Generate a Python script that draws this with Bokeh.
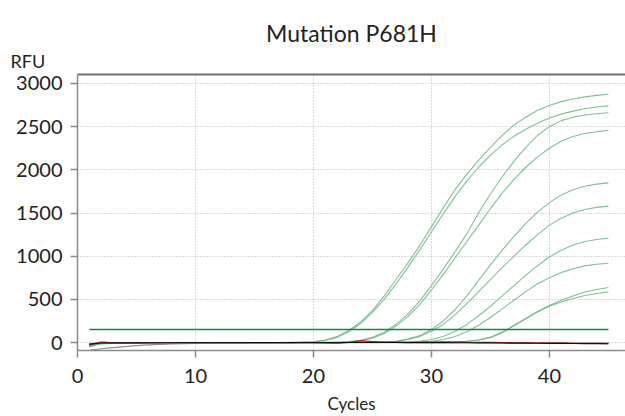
from bokeh.plotting import figure
from bokeh.models import ColumnDataSource, LinearAxis, FixedTicker, Range1d, Title
from bokeh.embed import file_html
from bokeh.resources import INLINE

cycles = list(range(1, 46))

c1 = [-45,-8,-10,-8,-7,-6,-5,-4,-4,-3,-3,-2,-2,-2,-1,-1,0,2,5,
      10,30,70,140,240,370,540,730,920,1120,1340,1560,1770,1950,2110,2260,2400,2520,2610,2690,2745,2790,2820,2845,2862,2875]
c2 = [-30,8,-2,-4,-4,-3,-3,-3,-2,-2,-2,-1,-1,-1,0,0,1,3,5,
      8,25,60,125,220,350,500,680,870,1070,1280,1490,1690,1870,2030,2170,2290,2390,2470,2540,2600,2645,2680,2708,2728,2741]
c3 = [-50,-12,-10,-8,-7,-6,-5,-5,-4,-4,-3,-3,-2,-2,-2,-1,-1,-1,0,0,2,4,
      8,25,60,120,210,330,480,660,850,1050,1260,1500,1720,1920,2100,2260,2400,2500,2570,2610,2635,2650,2661]
c4 = [-35,5,-3,-5,-5,-4,-4,-3,-3,-3,-2,-2,-2,-1,-1,-1,0,0,0,1,2,3,
      5,20,50,105,190,300,440,610,790,980,1170,1360,1550,1730,1890,2030,2150,2250,2330,2385,2420,2442,2457]
c5 = [-40,-10,-8,-7,-6,-5,-5,-4,-4,-3,-3,-3,-2,-2,-2,-1,-1,-1,0,0,0,1,1,2,3,
      5,15,40,80,150,250,380,540,720,900,1070,1230,1380,1510,1620,1710,1770,1810,1835,1849]
c6 = [-25,6,-2,-3,-4,-4,-3,-3,-3,-2,-2,-2,-2,-1,-1,-1,-1,0,0,0,0,1,1,2,2,
      4,12,35,70,130,210,320,450,590,730,870,1000,1130,1250,1360,1440,1500,1540,1565,1580]
c7 = [-48,-12,-9,-8,-7,-6,-5,-5,-4,-4,-3,-3,-3,-2,-2,-2,-1,-1,-1,0,0,0,0,1,1,2,2,
      5,15,35,70,130,210,310,420,540,660,780,890,990,1070,1130,1170,1193,1207]
c8 = [-32,4,-3,-4,-4,-4,-3,-3,-3,-3,-2,-2,-2,-2,-1,-1,-1,-1,0,0,0,0,0,1,1,1,2,3,
      5,15,35,70,125,200,290,390,490,590,680,750,810,855,888,907,919]
c9 = [-42,-9,-8,-7,-6,-5,-5,-4,-4,-3,-3,-3,-2,-2,-2,-1,-1,-1,-1,0,0,0,0,0,1,1,1,1,2,2,
      3,8,15,30,60,120,200,280,360,430,490,540,585,615,638]
c10 = [-28,2,-4,-5,-5,-4,-4,-3,-3,-3,-2,-2,-2,-2,-1,-1,-1,-1,0,0,0,0,0,0,0,1,1,1,1,2,
       3,8,15,30,60,115,195,275,355,420,470,510,545,568,585]

nc_gray = [-90,-72,-58,-46,-36,-28,-21,-16,-12,-9,-7,-5,-4,-3,-2,-2,-1,-1,0,0,0,0,0,0,0,
           0,0,0,0,-1,-1,-1,-2,-2,-2,-3,-3,-3,-4,-4,-4,-5,-5,-5,-6]
nc_black = [-20,-5,-4,-3,-3,-2,-2,-2,-1,-1,-1,0,0,0,0,0,0,0,0,0,0,0,1,2,2,
            1,1,0,0,-1,-1,-2,-2,-3,-4,-5,-6,-7,-8,-9,-10,-11,-12,-13,-14]
nc_red = [-15,0,-2,-2,-1,-1,0,0,0,0,0,0,0,0,0,0,0,0,0,-3,-5,-8,0,22,12,
          3,2,3,5,6,8,7,5,4,2,0,-2,-3,-5,-6,-7,-8,-9,-10,-12]

threshold_x = [1, 45]
threshold_y = [150, 150]

x_ticks = [0, 10, 20, 30, 40]
y_ticks = [0, 500, 1000, 1500, 2000, 2500, 3000]

FONT = "Lato"
TXT = "#222222"

p = figure(width=625, height=416, output_backend="svg", toolbar_location=None,
           x_range=Range1d(0, 46.45), y_range=Range1d(-92, 3104),
           min_border_left=77, min_border_right=0, min_border_top=74, min_border_bottom=65)
p.outline_line_color = None
p.background_fill_color = "white"
p.border_fill_color = "white"

p.title.text = "Mutation P681H"
p.title.align = "center"
p.title.text_font = FONT
p.title.text_font_size = "23px"
p.title.text_font_style = "normal"
p.title.text_color = TXT
p.title.standoff = -4

for ax in (p.xaxis[0], p.yaxis[0]):
    ax.axis_line_color = "#8a8a8a"
    ax.axis_line_width = 1.5
    ax.major_tick_line_color = "#8a8a8a"
    ax.major_tick_line_width = 1.5
    ax.major_tick_out = 7
    ax.major_tick_in = 0
    ax.minor_tick_line_color = None
    ax.major_label_text_font = FONT
    ax.major_label_text_font_size = "20px"
    ax.major_label_text_color = TXT

p.xaxis.ticker = FixedTicker(ticks=x_ticks)
p.yaxis.ticker = FixedTicker(ticks=y_ticks)
p.xaxis.major_label_standoff = 11
p.yaxis.major_label_standoff = 8
p.xaxis.axis_label = "Cycles"
p.xaxis.axis_label_text_font = FONT
p.xaxis.axis_label_text_font_size = "17px"
p.xaxis.axis_label_text_font_style = "normal"
p.xaxis.axis_label_text_color = TXT
p.xaxis.axis_label_standoff = 7

top = LinearAxis(ticker=FixedTicker(ticks=[]), major_label_text_font_size="0px",
                 axis_line_color="#6e6e6e", axis_line_width=2,
                 major_tick_line_color=None, minor_tick_line_color=None)
p.add_layout(top, "above")

rfu = Title(text="RFU", align="left", offset=-67, standoff=6, text_font=FONT,
            text_font_size="18px", text_font_style="normal", text_color=TXT)
p.add_layout(rfu, "above")

p.xgrid.ticker = FixedTicker(ticks=[10, 20, 30, 40])
p.ygrid.ticker = FixedTicker(ticks=y_ticks)
for g in (p.xgrid[0], p.ygrid[0]):
    g.grid_line_color = "#b5b5b5"
    g.grid_line_dash = "1 2"
    g.grid_line_width = 1

greens = [c1, c2, c3, c4, c5, c6, c7, c8, c9, c10]
src = ColumnDataSource(dict(xs=[cycles] * len(greens), ys=greens))
p.multi_line("xs", "ys", source=src, line_color="#6bb583", line_alpha=0.85, line_width=1.1)

p.line(cycles, nc_gray, line_color="#8c8c8c", line_width=1.2)
p.line(cycles, nc_red, line_color="#c62020", line_width=1.1)
p.line(cycles, nc_black, line_color="#111111", line_width=1.2)

p.line(threshold_x, threshold_y, line_color="#13893a", line_width=1.5)

open("out.html", "w").write(file_html(p, INLINE))
